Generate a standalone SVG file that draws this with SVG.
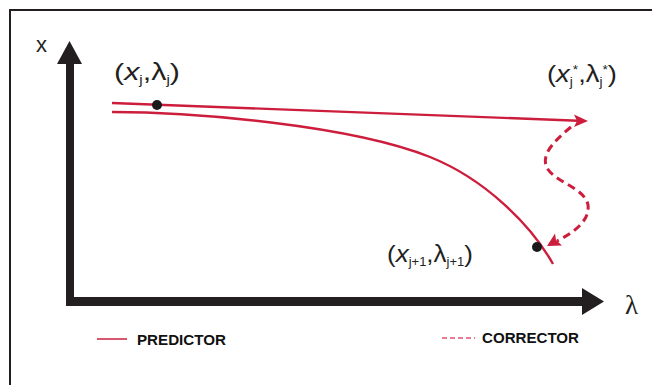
<svg xmlns="http://www.w3.org/2000/svg" width="652" height="385" viewBox="0 0 652 385">
<style>
.frame{stroke:#231f20;stroke-width:2;fill:none}
.axis{fill:#231f20}
.pred{stroke:#cc1e3c;stroke-width:2.4;fill:none}
.corr{stroke:#cc1e3c;stroke-width:3;fill:none;stroke-dasharray:8 5}
.red{fill:#cc1e3c}
.dot{fill:#1a1a1a}
.lbl{font-family:"Liberation Sans","DejaVu Sans",sans-serif;font-size:24px;fill:#231f20}
.sub{font-size:12px}
.leg{font-family:"Liberation Sans","DejaVu Sans",sans-serif;font-weight:bold;font-size:15px;fill:#111}
</style>
<rect width="652" height="385" fill="#fff"/>
<path class="frame" d="M10,385 L10,10 L652,10"/>
<g id="axes">
<rect class="axis" x="66" y="62" width="8" height="244"/>
<polygon class="axis" points="69.5,41 82,64 57,64"/>
<rect class="axis" x="66" y="297" width="518" height="9"/>
<polygon class="axis" points="582,288 604,301.5 582,315"/>
<text x="36" y="52" style="font-family:'Liberation Sans',sans-serif;font-size:22px;fill:#231f20">x</text>
<text x="625" y="314" style="font-family:'Liberation Serif',serif;font-size:27px;fill:#231f20">λ</text>
</g>
<g id="connectors">
<path class="pred" d="M112,103 L578,120.7"/>
<polygon class="red" points="588,121 574,114.5 577,121 574,127"/>
<path class="pred" d="M112,112 C192,112 350,125 430,157 C485,179 531,224.8 553,264"/>
<path class="corr" d="M571,127 C555,140 540,155 547,168 C555,182 585,188 588,205 C590,220 575,232 557,241"/>
<polygon class="red" points="547,246 555,233.5 556,240 562,245.5"/>
</g>
<g id="p_j">
<circle class="dot" cx="157" cy="105" r="5"/>
<text class="lbl" x="114" y="80" textLength="66" lengthAdjust="spacingAndGlyphs">(<tspan font-style="italic">x</tspan><tspan class="sub" dy="4">j</tspan><tspan dy="-4">,λ</tspan><tspan class="sub" dy="4">j</tspan><tspan dy="-4">)</tspan></text>
</g>
<g id="p_star">
<text class="lbl" x="547" y="82" textLength="70" lengthAdjust="spacingAndGlyphs">(<tspan font-style="italic">x</tspan><tspan class="sub" dy="4">j</tspan><tspan class="sub" dy="-12">*</tspan><tspan dy="8">,λ</tspan><tspan class="sub" dy="4">j</tspan><tspan class="sub" dy="-12">*</tspan><tspan dy="8">)</tspan></text>
</g>
<g id="p_j1">
<circle class="dot" cx="537" cy="247" r="5"/>
<text class="lbl" x="387" y="262" textLength="86" lengthAdjust="spacingAndGlyphs">(<tspan font-style="italic">x</tspan><tspan class="sub" dy="4">j+1</tspan><tspan dy="-4">,λ</tspan><tspan class="sub" dy="4">j+1</tspan><tspan dy="-4">)</tspan></text>
</g>
<g id="legend">
<line x1="97" y1="339" x2="127" y2="339" stroke="#cc1e3c" stroke-width="1.5"/>
<text class="leg" x="137" y="345" textLength="89" lengthAdjust="spacingAndGlyphs">PREDICTOR</text>
<line x1="442" y1="338" x2="475" y2="338" stroke="#e0506e" stroke-width="1.5" stroke-dasharray="5 3"/>
<text class="leg" x="482" y="343" textLength="97" lengthAdjust="spacingAndGlyphs">CORRECTOR</text>
</g>
</svg>
